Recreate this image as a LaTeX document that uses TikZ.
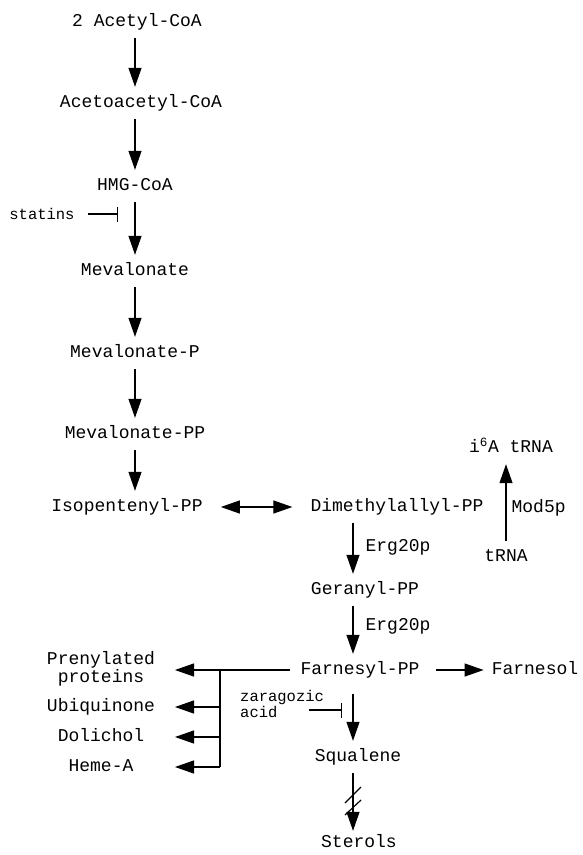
\documentclass[tikz,border=0pt]{standalone}
\usepackage{fontspec}
\newfontfamily\metabfont{Liberation Mono}
\usetikzlibrary{arrows.meta}

\begin{document}
\begin{tikzpicture}[x=1pt, y=-1pt,
	base/.style={font={\metabfont\fontsize{18}{18}\selectfont}, inner xsep=8pt},
	metab/.style={base, text height=13pt, text depth=4pt, inner ysep=7.5pt},
	drug/.style={font={\metabfont\fontsize{15.5}{16}\selectfont}, inner sep=3pt},
	rxn/.style={line width=1.2pt, -{Triangle[length=19pt, width=13pt]}},
	inhib/.style={line width=1.2pt, -{Bar[width=15pt, line width=1.2pt]}},
	]
	\useasboundingbox (0, 0) rectangle (583, 855);

	% mevalonate pathway
	\coordinate (mc) at (135, 0);
	\node[metab] (acetyl) at (137, 22) {2 Acetyl-CoA};
	\node[metab] (acetoacetyl) at (141, 103) {Acetoacetyl-CoA};
	\node[metab] (hmgcoa) at (135, 186) {HMG-CoA};
	\node[metab] (mev) at (135, 271) {Mevalonate};
	\node[metab] (mevp) at (135, 353) {Mevalonate-P};
	\node[metab] (mevpp) at (135, 434) {Mevalonate-PP};
	\node[metab] (ipp) at (127, 507) {Isopentenyl-PP};
	\draw[rxn] (acetyl.south -| mc) -- (acetoacetyl.north -| mc);
	\draw[rxn] (acetoacetyl.south -| mc) -- (hmgcoa.north -| mc);
	\draw[rxn] (hmgcoa.south -| mc) -- (mev.north -| mc);
	\draw[rxn] (mev.south -| mc) -- (mevp.north -| mc);
	\draw[rxn] (mevp.south -| mc) -- (mevpp.north -| mc);
	\draw[rxn] (mevpp.south -| mc) -- (ipp.north -| mc);

	\node[drug] (statins) at (42, 214) {statins};
	\coordinate (stbar) at (118, 214);
	\draw[inhib, shorten <=10pt] (statins.east) -- (stbar);

	% isoprenoid branch
	\coordinate (rc) at (353, 0);
	\node[metab] (dmapp) at (397, 507) {Dimethylallyl-PP};
	\node[metab] (geranyl) at (365, 590) {Geranyl-PP};
	\node[metab] (farnesyl) at (360, 670) {Farnesyl-PP};
	\node[metab] (squalene) at (358, 757) {Squalene};
	\node[metab] (sterols) at (359, 843) {Sterols};
	\draw[rxn, {Triangle[length=19pt, width=13pt]}-{Triangle[length=19pt, width=13pt]}, shorten <=10pt, shorten >=10pt] (ipp.east) -- (dmapp.west);
	\draw[rxn] (dmapp.south -| rc) -- node[metab, right, inner xsep=12pt, yshift=2pt] {Erg20p} (geranyl.north -| rc);
	\draw[rxn] (geranyl.south -| rc) -- node[metab, right, inner xsep=12pt, yshift=4pt] {Erg20p} (farnesyl.north -| rc);
	\draw[rxn, shorten <=8pt] (farnesyl.south -| rc) -- (squalene.north -| rc);
	\draw[rxn, shorten >=-4pt] (squalene.south -| rc) -- (sterols.north -| rc);
	\draw[line width=1.2pt] (345, 803) -- (361, 787);
	\draw[line width=1.2pt] (345, 815) -- (361, 800);

	\node[drug, align=left, anchor=west] (zaragozic) at (237, 704) {zaragozic\\acid};
	\coordinate (zstart) at (309, 710);
	\coordinate (zbar) at (342, 710);
	\draw[inhib] (zstart) -- (zbar);

	% tRNA modification
	\node[metab] (i6a) at (511, 448) {i\textsuperscript{6}A tRNA};
	\node[metab] (trna) at (506, 557) {tRNA};
	\draw[rxn] (trna.north) -- node[metab, right, inner xsep=5pt, yshift=-5pt] {Mod5p} (i6a.south -| trna.north);

	\node[metab] (farnesol) at (535, 670) {Farnesol};
	\draw[rxn, shorten <=8pt] (farnesyl.east) -- (farnesol.west);

	% prenylated products
	\coordinate (lx) at (175, 0);
	\coordinate (bx) at (220, 0);
	\node[base, align=center] (prenyl) at (101, 669) {Prenylated\\proteins};
	\node[metab] (ubi) at (101, 707) {Ubiquinone};
	\node[metab] (doli) at (101, 737) {Dolichol};
	\node[metab] (heme) at (101, 767) {Heme-A};
	\draw[rxn, shorten <=2pt] (farnesyl.west) -- (farnesyl.west -| lx);
	\draw[line width=1.2pt] (farnesyl.west -| bx) -- (heme -| bx);
	\draw[rxn] (ubi -| bx) -- (ubi -| lx);
	\draw[rxn] (doli -| bx) -- (doli -| lx);
	\draw[rxn] (heme -| bx) -- (heme -| lx);
\end{tikzpicture}
\end{document}
